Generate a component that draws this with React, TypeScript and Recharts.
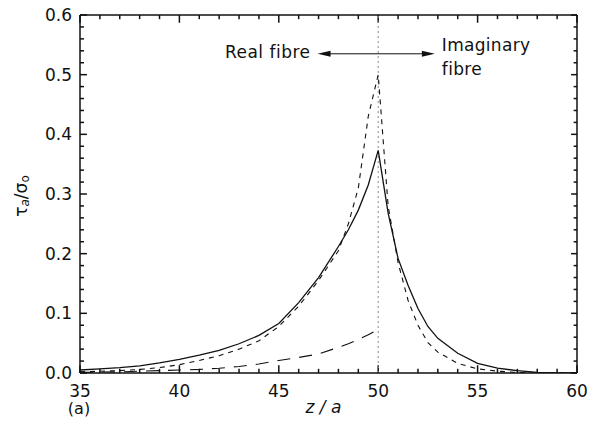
import React from 'react';
import { LineChart, Line, XAxis, YAxis, ReferenceLine } from 'recharts';

// z/a positions sampled along the fibre (denser near the fibre end at 50)
const zValues = [
  35, 36, 37, 38, 39, 40, 41, 42, 43, 44, 45, 46, 47, 48,
  48.5, 49, 49.5, 50, 50.5, 51, 51.5, 52, 52.5, 53,
  54, 55, 56, 57, 58, 59, 60,
];

// solid curve
const solidCurve = [
  0.005, 0.007, 0.009, 0.012, 0.017, 0.023, 0.030, 0.038, 0.049, 0.063, 0.083, 0.118, 0.160, 0.212,
  0.240, 0.273, 0.315, 0.373, 0.268, 0.192, 0.147, 0.108, 0.078, 0.058,
  0.033, 0.016, 0.008, 0.004, 0.001, 0, 0,
];

// short dashes
const shortDashCurve = [
  0.002, 0.003, 0.004, 0.006, 0.009, 0.014, 0.021, 0.029, 0.040, 0.054, 0.078, 0.112, 0.155, 0.205,
  0.250, 0.310, 0.430, 0.500, 0.280, 0.185, 0.122, 0.080, 0.051, 0.035,
  0.016, 0.007, 0.003, 0.001, 0, 0, 0,
];

// long dashes, only on the real fibre side
const longDashCurve = [
  0.001, 0.0015, 0.002, 0.003, 0.004, 0.005, 0.006, 0.008, 0.011, 0.015, 0.021, 0.026, 0.032, 0.043,
  0.049, 0.056, 0.064, 0.073, null, null, null, null, null, null,
  null, null, null, null, null, null, null,
];

const xTicks = [35, 36, 37, 38, 39, 40, 41, 42, 43, 44, 45, 46, 47, 48, 49, 50, 51, 52, 53, 54, 55, 56, 57, 58, 59, 60];
const yTicks = [
  0, 0.02, 0.04, 0.06, 0.08, 0.1, 0.12, 0.14, 0.16, 0.18, 0.2, 0.22, 0.24, 0.26, 0.28, 0.3,
  0.32, 0.34, 0.36, 0.38, 0.4, 0.42, 0.44, 0.46, 0.48, 0.5, 0.52, 0.54, 0.56, 0.58, 0.6,
];

const xMin = 35;
const xMax = 60;
const yMin = 0;
const yMax = 0.6;
const fibreEnd = 50;
const arrowFrom = 46.95;
const arrowTo = 52.85;
const arrowLevel = 0.535;

// inward tick lengths, in axis units
const xTickLen = { major: 0.013, minor: 0.007 };
const yTickLen = { major: 0.35, minor: 0.2 };

const data = zValues.map((z, i) => ({
  z,
  solid: solidCurve[i],
  shortDash: shortDashCurve[i],
  longDash: longDashCurve[i],
}));

const ink = '#111';
const font = '"DejaVu Sans", sans-serif';

const majorX = (v: number) => v % 5 === 0;
const majorY = (v: number) => Math.abs(v * 10 - Math.round(v * 10)) < 1e-6;

// tick labels only; the marks are drawn with reference segments
const BottomTick = (p: any) => {
  const v = p.payload.value;
  if (!majorX(v)) return <g />;
  return (
    <text x={p.x} y={p.y + 24} textAnchor="middle" fontSize={17} fontFamily={font} fill={ink}>
      {v}
    </text>
  );
};

const LeftTick = (p: any) => {
  const v = p.payload.value;
  if (!majorY(v)) return <g />;
  return (
    <text x={p.x - 8} y={p.y + 6} textAnchor="end" fontSize={17} fontFamily={font} fill={ink}>
      {v.toFixed(1)}
    </text>
  );
};

const ArrowShape = (p: any) => {
  const { x1, y1, x2, y2 } = p;
  return (
    <g>
      <line x1={x1 + 8} y1={y1} x2={x2 - 8} y2={y2} stroke={ink} strokeWidth={1} />
      <polygon points={`${x1},${y1} ${x1 + 13},${y1 - 3} ${x1 + 13},${y1 + 3}`} fill={ink} />
      <polygon points={`${x2},${y2} ${x2 - 13},${y2 - 3} ${x2 - 13},${y2 + 3}`} fill={ink} />
      <text x={x1 - 7} y={y1 + 4} textAnchor="end" fontSize={17} fontFamily={font} fill={ink} letterSpacing={0.5}>
        Real fibre
      </text>
      <text x={x2 + 7} y={y2 - 3} fontSize={17} fontFamily={font} fill={ink} letterSpacing={0.3}>
        Imaginary
      </text>
      <text x={x2 + 7} y={y2 + 21} fontSize={17} fontFamily={font} fill={ink} letterSpacing={0.3}>
        fibre
      </text>
    </g>
  );
};

const YLabel = (p: any) => {
  const vb = p.viewBox;
  const cx = 21;
  const cy = vb.y + vb.height / 2 + 2;
  return (
    <text x={cx} y={cy} transform={`rotate(-90, ${cx}, ${cy})`} textAnchor="middle" dominantBaseline="central" fontFamily={font} fill={ink}>
      <tspan fontSize={17}>τ</tspan>
      <tspan fontSize={12} fontStyle="italic" dy={4}>a</tspan>
      <tspan fontSize={17} dy={-4}>/σ</tspan>
      <tspan fontSize={12} dy={4}>o</tspan>
    </text>
  );
};

const XLabel = (p: any) => {
  const vb = p.viewBox;
  return (
    <g>
      <text x={vb.x - 1} y={vb.y + 41} textAnchor="middle" fontSize={16} fontFamily={font} fill={ink}>
        (a)
      </text>
      <text x={vb.x + vb.width / 2 - 5} y={vb.y + 40} textAnchor="middle" fontSize={17} fontStyle="italic" fontFamily={font} fill={ink}>
        z / a
      </text>
    </g>
  );
};

export default function App() {
  return (
    <div style={{ width: 606, height: 425, margin: -8 }}>
      <LineChart width={606} height={425} data={data} margin={{ top: 15, right: 29, left: 0, bottom: 0 }}>
        <XAxis
          dataKey="z"
          type="number"
          domain={[xMin, xMax]}
          ticks={xTicks}
          interval={0}
          allowDataOverflow
          height={52}
          tickSize={0}
          tickMargin={0}
          tickLine={false}
          tick={BottomTick}
          axisLine={{ stroke: ink, strokeWidth: 1.5 }}
          label={{ content: XLabel }}
        />
        <YAxis
          type="number"
          domain={[yMin, yMax]}
          ticks={yTicks}
          interval={0}
          allowDataOverflow
          width={80}
          tickSize={0}
          tickMargin={0}
          tickLine={false}
          tick={LeftTick}
          axisLine={{ stroke: ink, strokeWidth: 1.5 }}
          label={{ content: YLabel }}
        />
        {/* frame top and right */}
        <ReferenceLine y={yMax} stroke={ink} strokeWidth={1.5} ifOverflow="visible" />
        <ReferenceLine x={xMax} stroke={ink} strokeWidth={1.5} ifOverflow="visible" />
        {xTicks.map((v) => {
          const len = majorX(v) ? xTickLen.major : xTickLen.minor;
          return (
            <React.Fragment key={`x${v}`}>
              <ReferenceLine ifOverflow="visible" stroke={ink} strokeWidth={1.5} segment={[{ x: v, y: yMin }, { x: v, y: yMin + len }]} />
              <ReferenceLine ifOverflow="visible" stroke={ink} strokeWidth={1.5} segment={[{ x: v, y: yMax }, { x: v, y: yMax - len }]} />
            </React.Fragment>
          );
        })}
        {yTicks.map((v) => {
          const len = majorY(v) ? yTickLen.major : yTickLen.minor;
          return (
            <React.Fragment key={`y${v}`}>
              <ReferenceLine ifOverflow="visible" stroke={ink} strokeWidth={1.5} segment={[{ x: xMin, y: v }, { x: xMin + len, y: v }]} />
              <ReferenceLine ifOverflow="visible" stroke={ink} strokeWidth={1.5} segment={[{ x: xMax, y: v }, { x: xMax - len * 0.85, y: v }]} />
            </React.Fragment>
          );
        })}
        <ReferenceLine x={fibreEnd} stroke="#888" strokeWidth={1} strokeDasharray="2 3" />
        <ReferenceLine
          segment={[
            { x: arrowFrom, y: arrowLevel },
            { x: arrowTo, y: arrowLevel },
          ]}
          shape={ArrowShape}
        />
        <Line type="linear" dataKey="solid" stroke={ink} strokeWidth={1.3} dot={false} isAnimationActive={false} />
        <Line type="linear" dataKey="shortDash" stroke={ink} strokeWidth={1.1} strokeDasharray="5 5" dot={false} isAnimationActive={false} />
        <Line type="linear" dataKey="longDash" stroke={ink} strokeWidth={1.1} strokeDasharray="13 9" dot={false} isAnimationActive={false} />
      </LineChart>
    </div>
  );
}
